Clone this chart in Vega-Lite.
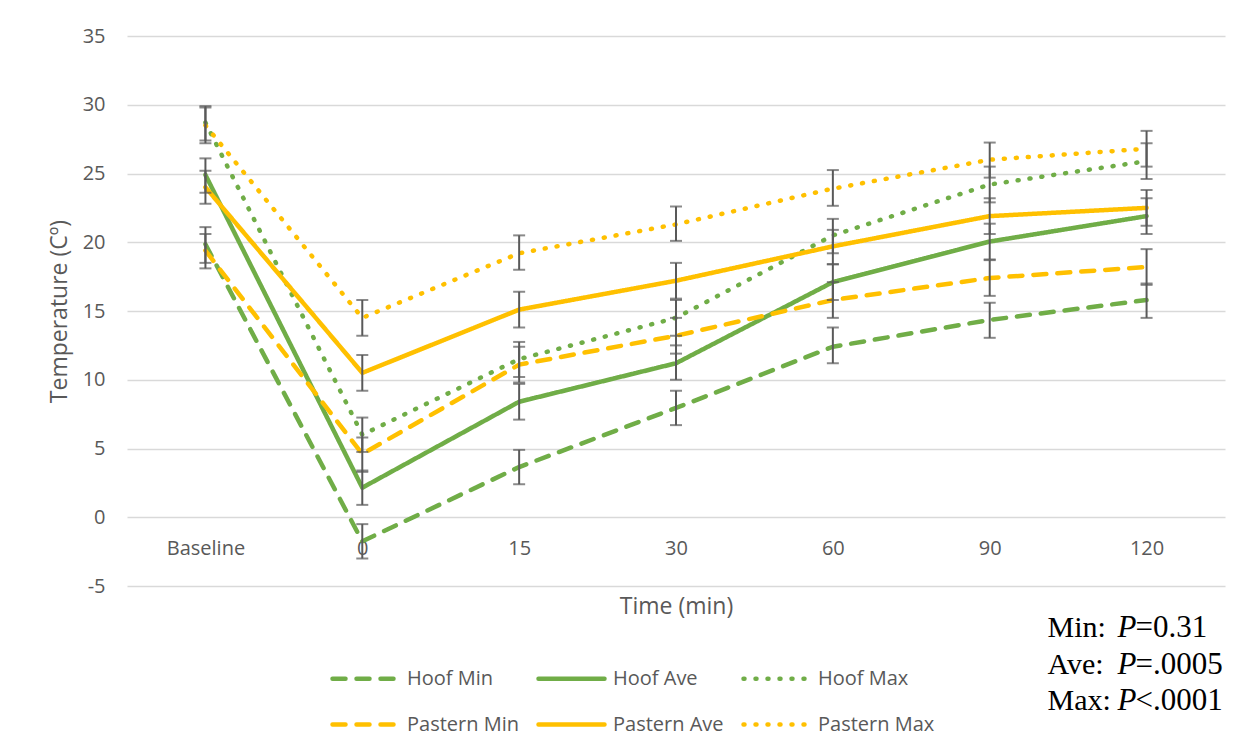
{
  "$schema": "https://vega.github.io/schema/vega-lite/v6.json",
  "width": 1098,
  "height": 550,
  "autosize": {"type": "none"},
  "padding": {"left": 127, "top": 36, "right": 28, "bottom": 169},
  "background": "white",
  "config": {"view": {"stroke": null}, "font": "Open Sans"},
  "data": {"values": [
    {"time": "Baseline", "series": "Hoof Min", "t": 19.85, "lo": 18.5, "hi": 21.1},
    {"time": "Baseline", "series": "Hoof Ave", "t": 24.9, "lo": 23.6, "hi": 26.1},
    {"time": "Baseline", "series": "Hoof Max", "t": 28.7, "lo": 27.4, "hi": 29.9},
    {"time": "Baseline", "series": "Pastern Min", "t": 19.4, "lo": 18.1, "hi": 20.6},
    {"time": "Baseline", "series": "Pastern Ave", "t": 24.0, "lo": 22.8, "hi": 25.2},
    {"time": "Baseline", "series": "Pastern Max", "t": 28.5, "lo": 27.2, "hi": 29.8},
    {"time": "0", "series": "Hoof Min", "t": -1.75, "lo": -3.0, "hi": -0.5},
    {"time": "0", "series": "Hoof Ave", "t": 2.15, "lo": 0.9, "hi": 3.4},
    {"time": "0", "series": "Hoof Max", "t": 6.0, "lo": 4.75, "hi": 7.25},
    {"time": "0", "series": "Pastern Min", "t": 4.6, "lo": 3.3, "hi": 5.8},
    {"time": "0", "series": "Pastern Ave", "t": 10.5, "lo": 9.2, "hi": 11.8},
    {"time": "0", "series": "Pastern Max", "t": 14.5, "lo": 13.2, "hi": 15.8},
    {"time": "15", "series": "Hoof Min", "t": 3.65, "lo": 2.4, "hi": 4.9},
    {"time": "15", "series": "Hoof Ave", "t": 8.4, "lo": 7.1, "hi": 9.7},
    {"time": "15", "series": "Hoof Max", "t": 11.5, "lo": 10.2, "hi": 12.75},
    {"time": "15", "series": "Pastern Min", "t": 11.1, "lo": 9.8, "hi": 12.4},
    {"time": "15", "series": "Pastern Ave", "t": 15.1, "lo": 13.8, "hi": 16.4},
    {"time": "15", "series": "Pastern Max", "t": 19.2, "lo": 18.0, "hi": 20.5},
    {"time": "30", "series": "Hoof Min", "t": 7.95, "lo": 6.7, "hi": 9.2},
    {"time": "30", "series": "Hoof Ave", "t": 11.2, "lo": 10.0, "hi": 12.5},
    {"time": "30", "series": "Hoof Max", "t": 14.5, "lo": 13.2, "hi": 15.8},
    {"time": "30", "series": "Pastern Min", "t": 13.2, "lo": 11.9, "hi": 14.5},
    {"time": "30", "series": "Pastern Ave", "t": 17.2, "lo": 15.9, "hi": 18.5},
    {"time": "30", "series": "Pastern Max", "t": 21.3, "lo": 20.1, "hi": 22.6},
    {"time": "60", "series": "Hoof Min", "t": 12.4, "lo": 11.2, "hi": 13.8},
    {"time": "60", "series": "Hoof Ave", "t": 17.1, "lo": 15.8, "hi": 18.4},
    {"time": "60", "series": "Hoof Max", "t": 20.5, "lo": 19.2, "hi": 21.7},
    {"time": "60", "series": "Pastern Min", "t": 15.8, "lo": 14.5, "hi": 17.1},
    {"time": "60", "series": "Pastern Ave", "t": 19.7, "lo": 18.4, "hi": 20.9},
    {"time": "60", "series": "Pastern Max", "t": 23.9, "lo": 22.65, "hi": 25.25},
    {"time": "90", "series": "Hoof Min", "t": 14.35, "lo": 13.05, "hi": 15.6},
    {"time": "90", "series": "Hoof Ave", "t": 20.05, "lo": 18.75, "hi": 21.35},
    {"time": "90", "series": "Hoof Max", "t": 24.2, "lo": 22.9, "hi": 25.5},
    {"time": "90", "series": "Pastern Min", "t": 17.4, "lo": 16.1, "hi": 18.7},
    {"time": "90", "series": "Pastern Ave", "t": 21.9, "lo": 20.6, "hi": 23.2},
    {"time": "90", "series": "Pastern Max", "t": 26.0, "lo": 24.7, "hi": 27.25},
    {"time": "120", "series": "Hoof Min", "t": 15.8, "lo": 14.5, "hi": 17.0},
    {"time": "120", "series": "Hoof Ave", "t": 21.9, "lo": 20.6, "hi": 23.2},
    {"time": "120", "series": "Hoof Max", "t": 25.9, "lo": 24.6, "hi": 27.2},
    {"time": "120", "series": "Pastern Min", "t": 18.2, "lo": 16.9, "hi": 19.5},
    {"time": "120", "series": "Pastern Ave", "t": 22.5, "lo": 21.2, "hi": 23.8},
    {"time": "120", "series": "Pastern Max", "t": 26.8, "lo": 25.5, "hi": 28.1}
  ]},
  "layer": [
    {
      "mark": {"type": "line", "strokeWidth": 4.5, "strokeCap": "round", "strokeJoin": "round"},
      "encoding": {
        "x": {
          "field": "time", "type": "ordinal",
          "sort": ["Baseline", "0", "15", "30", "60", "90", "120"],
          "scale": {"type": "point", "padding": 0.5},
          "axis": {
            "title": "Time (min)", "offset": -68.75, "domain": false, "ticks": false, "grid": false,
            "labelAngle": 0, "labelFont": "Open Sans", "labelFontSize": 20, "labelColor": "#595959",
            "labelPadding": 21, "titleFont": "Open Sans", "titleFontSize": 23, "titleFontWeight": "normal",
            "titleColor": "#595959", "titlePadding": 37
          }
        },
        "y": {
          "field": "t", "type": "quantitative",
          "scale": {"domain": [-5, 35], "nice": false, "zero": false},
          "axis": {
            "title": "Temperature (Cº)", "values": [-5, 0, 5, 10, 15, 20, 25, 30, 35],
            "labelExpr": "'' + datum.value",
            "domain": false, "ticks": false, "grid": true, "gridColor": "#d9d9d9", "gridWidth": 1.3,
            "labelFont": "Open Sans", "labelFontSize": 20, "labelColor": "#595959", "labelPadding": 22,
            "titleFont": "Open Sans", "titleFontSize": 23, "titleFontWeight": "normal", "titleColor": "#595959",
            "titlePadding": 11
          }
        },
        "color": {
          "field": "series", "type": "nominal",
          "scale": {
            "domain": ["Hoof Min", "Hoof Ave", "Hoof Max", "Pastern Min", "Pastern Ave", "Pastern Max"],
            "range": ["#70AD47", "#70AD47", "#70AD47", "#FFC000", "#FFC000", "#FFC000"]
          },
          "legend": {
            "title": null, "orient": "none", "legendX": 203, "legendY": 607, "direction": "horizontal",
            "columns": 3, "symbolType": "stroke", "symbolSize": 4356, "symbolStrokeWidth": 4.5,
            "labelFont": "Open Sans", "labelFontSize": 20, "labelColor": "#595959", "labelOffset": 6,
            "columnPadding": 10, "rowPadding": -26, "padding": 0,
            "encode": {"symbols": {"update": {"strokeCap": {"value": "round"}}}}
          }
        },
        "strokeDash": {
          "field": "series", "type": "nominal",
          "scale": {
            "domain": ["Hoof Min", "Hoof Ave", "Hoof Max", "Pastern Min", "Pastern Ave", "Pastern Max"],
            "range": [[13, 11], [1, 0], [1, 11], [13, 11], [1, 0], [1, 11]]
          },
          "legend": {
            "title": null, "orient": "none", "legendX": 203, "legendY": 607, "direction": "horizontal",
            "columns": 3, "symbolType": "stroke", "symbolSize": 4356, "symbolStrokeWidth": 4.5,
            "labelFont": "Open Sans", "labelFontSize": 20, "labelColor": "#595959", "labelOffset": 6,
            "columnPadding": 10, "rowPadding": -26, "padding": 0,
            "encode": {"symbols": {"update": {"strokeCap": {"value": "round"}}}}
          }
        }
      }
    },
    {
      "mark": {"type": "rule", "color": "#595959", "strokeWidth": 2},
      "encoding": {
        "x": {"field": "time", "type": "ordinal", "sort": ["Baseline", "0", "15", "30", "60", "90", "120"]},
        "y": {"field": "lo", "type": "quantitative"},
        "y2": {"field": "hi"}
      }
    },
    {
      "mark": {"type": "tick", "orient": "horizontal", "color": "#595959", "thickness": 2, "size": 12},
      "encoding": {
        "x": {"field": "time", "type": "ordinal", "sort": ["Baseline", "0", "15", "30", "60", "90", "120"]},
        "y": {"field": "lo", "type": "quantitative"}
      }
    },
    {
      "mark": {"type": "tick", "orient": "horizontal", "color": "#595959", "thickness": 2, "size": 12},
      "encoding": {
        "x": {"field": "time", "type": "ordinal", "sort": ["Baseline", "0", "15", "30", "60", "90", "120"]},
        "y": {"field": "hi", "type": "quantitative"}
      }
    },
    {
      "data": {"values": [{}]},
      "mark": {"type": "text", "font": "Liberation Serif", "fontSize": 30, "align": "left", "baseline": "alphabetic", "lineHeight": 36.5, "dx": -99, "color": "#000000"},
      "encoding": {
        "x": {"datum": "120", "type": "ordinal"},
        "y": {"datum": -8.73, "type": "quantitative"},
        "text": {"value": ["Min:", "Ave:", "Max:"]}
      }
    },
    {
      "data": {"values": [{}]},
      "mark": {"type": "text", "font": "Liberation Serif", "fontSize": 31, "fontStyle": "italic", "align": "left", "baseline": "alphabetic", "lineHeight": 36.5, "dx": -29, "color": "#000000"},
      "encoding": {
        "x": {"datum": "120", "type": "ordinal"},
        "y": {"datum": -8.73, "type": "quantitative"},
        "text": {"value": ["P", "P", "P"]}
      }
    },
    {
      "data": {"values": [{}]},
      "mark": {"type": "text", "font": "Liberation Serif", "fontSize": 31, "align": "left", "baseline": "alphabetic", "lineHeight": 36.5, "dx": -11, "color": "#000000"},
      "encoding": {
        "x": {"datum": "120", "type": "ordinal"},
        "y": {"datum": -8.73, "type": "quantitative"},
        "text": {"value": ["=0.31", "=.0005", "<.0001"]}
      }
    }
  ]
}
